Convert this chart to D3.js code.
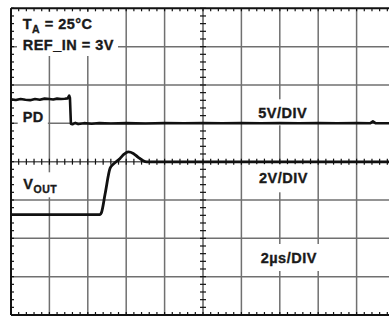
<!DOCTYPE html>
<html>
<head>
<meta charset="utf-8">
<script src="https://cdn.jsdelivr.net/npm/d3@7"></script>
<style>
  html, body { margin: 0; padding: 0; background: #fff; }
  svg { display: block; }
  text { font-family: "Liberation Sans", Arial, Helvetica, sans-serif; font-weight: bold; fill: #1a1a1a; stroke: #1a1a1a; stroke-width: 0.35px; }
</style>
</head>
<body>
<div id="chart"></div>
<script>
// ---- data ----
// horizontal: time in microseconds (2 µs/div, 10 divisions)
const timeDomain = [0, 20];
// vertical: screen divisions (8 divisions)
const divDomain = [0, 8];

// PD trace (5 V/div, 0 V at division 5)
const pdTime = [0, 0.25, 0.5, 0.75, 1.0, 1.25, 1.5, 1.75, 2.0, 2.2, 2.4, 2.6, 2.8, 2.95, 3.03, 3.07, 3.12, 3.2, 3.35, 3.5, 3.8, 4.2, 4.6, 5.2, 6, 7, 8, 9, 10, 11, 12, 13, 14, 15, 16, 17, 18, 18.7, 18.85, 19.0, 20];
const pdVolts = [3.12, 3.05, 3.18, 3.08, 3.02, 3.16, 3.08, 3.22, 3.18, 3.1, 3.22, 3.18, 3.2, 3.25, 3.62, 3.3, -0.05, -0.12, 0.05, -0.1, 0.02, -0.06, 0.03, -0.02, 0.02, -0.02, 0.02, 0.0, 0.03, 0.0, 0.02, 0.0, 0.02, 0.0, 0.02, 0.0, 0.02, 0.0, 0.25, 0.0, 0.02];
const pdZeroDiv = 5;
const pdVoltsPerDiv = 5;

// VOUT trace (2 V/div, 0 V reference at division 2.62)
const voutTime = [0, 4.64, 4.71, 4.9, 5.16, 5.33, 5.68, 5.89, 6.11, 6.37, 6.61, 6.89, 7.07, 20];
const voutVolts = [0, 0, 0.1, 1.07, 2.41, 2.63, 2.93, 3.15, 3.27, 3.19, 3.0, 2.8, 2.75, 2.75];
const voutZeroDiv = 2.62;
const voutVoltsPerDiv = 2;

// labels
const labelTexts = ["REF_IN = 3V", "PD", "5V/DIV", "2V/DIV", "2\u00B5s/DIV"];

// ---- drawing ----
const W = 389, H = 316;
const svg = d3.select("#chart").append("svg").attr("width", W).attr("height", H);
svg.append("rect").attr("width", W).attr("height", H).attr("fill", "#fff");

const x = d3.scaleLinear().domain(timeDomain).range([11, 395]);
const y = d3.scaleLinear().domain(divDomain).range([315, 8.3]);

const majorX = d3.range(0, 20.001, 2);
const majorY = d3.range(0, 8.001, 1);
const minorX = d3.range(0, 20.001, 0.4);
const minorY = d3.range(0, 8.001, 0.2);

const grid = svg.append("g");
grid.selectAll("line.vx").data(majorX.filter(d => d > 0 && d < 20 && d !== 10)).join("line")
  .attr("x1", d => x(d)).attr("x2", d => x(d)).attr("y1", y(8)).attr("y2", y(0))
  .attr("stroke", "#707070").attr("stroke-width", 1.5);
grid.selectAll("line.hy").data(majorY.filter(d => d > 0 && d < 8 && d !== 4)).join("line")
  .attr("x1", x(0)).attr("x2", x(20)).attr("y1", d => y(d)).attr("y2", d => y(d))
  .attr("stroke", "#707070").attr("stroke-width", 1.5);
// center axes
grid.append("line").attr("x1", x(10)).attr("x2", x(10)).attr("y1", y(8)).attr("y2", y(0))
  .attr("stroke", "#606060").attr("stroke-width", 1.5);
grid.append("line").attr("x1", x(0)).attr("x2", x(20)).attr("y1", y(4)).attr("y2", y(4))
  .attr("stroke", "#606060").attr("stroke-width", 1.5);

// ticks
const ticks = svg.append("g").attr("stroke", "#111").attr("stroke-width", 1.2);
const tl = 3;
minorX.forEach(t => {
  ticks.append("line").attr("x1", x(t)).attr("x2", x(t)).attr("y1", y(8)).attr("y2", y(8) + tl);
  ticks.append("line").attr("x1", x(t)).attr("x2", x(t)).attr("y1", y(0)).attr("y2", y(0) - tl);
  ticks.append("line").attr("x1", x(t)).attr("x2", x(t)).attr("y1", y(4) - tl).attr("y2", y(4) + tl);
});
minorY.forEach(v => {
  ticks.append("line").attr("x1", x(0)).attr("x2", x(0) + tl).attr("y1", y(v)).attr("y2", y(v));
  ticks.append("line").attr("x1", x(10) - tl).attr("x2", x(10) + tl).attr("y1", y(v)).attr("y2", y(v));
});

// border
svg.append("line").attr("x1", x(0)).attr("x2", W).attr("y1", y(8)).attr("y2", y(8)).attr("stroke", "#111").attr("stroke-width", 2);
svg.append("line").attr("x1", x(0)).attr("x2", W).attr("y1", y(0)).attr("y2", y(0)).attr("stroke", "#111").attr("stroke-width", 2);
svg.append("line").attr("x1", x(0)).attr("x2", x(0)).attr("y1", y(8)).attr("y2", y(0)).attr("stroke", "#111").attr("stroke-width", 2);

// labels with white boxes
const lab = svg.append("g");
function label(parts, lx, ly, pad) {
  const g = lab.append("g");
  const r = g.append("rect").attr("fill", "#fff");
  const t = g.append("text").attr("x", lx).attr("y", ly).style("font-size", "14.5px").style("letter-spacing", "0.5px");
  parts.forEach(p => {
    const s = t.append("tspan").text(p.t);
    if (p.sub) s.attr("dy", 4).style("font-size", "10.5px");
    if (p.up) s.attr("dy", -4);
  });
  const b = t.node().getBBox();
  r.attr("x", b.x - pad[0]).attr("y", b.y - pad[1]).attr("width", b.width + pad[0] + pad[2]).attr("height", b.height + pad[1] + pad[3]).attr("stroke", "none");
  return g;
}
// T_A / REF_IN block
{
  const g = lab.append("g");
  g.append("rect").attr("x", 17).attr("y", 12).attr("width", 101).attr("height", 44).attr("fill", "#fff");
  const t1 = g.append("text").attr("x", 22.7).attr("y", 29.3).style("font-size", "14.5px").style("letter-spacing", "0.5px");
  t1.append("tspan").text("T");
  t1.append("tspan").text("A").attr("dy", 4).style("font-size", "10.5px");
  t1.append("tspan").text(" = 25\u00B0C").attr("dy", -4);
  g.append("text").attr("x", 22.7).attr("y", 49.5).style("font-size", "14.5px").style("letter-spacing", "0.5px").text(labelTexts[0]);
}
label([{t: labelTexts[1]}], 22.7, 121.7, [5, 4, 4, 3]);
label([{t: labelTexts[2]}], 258.3, 118.3, [5, 6, 5, 4]);
label([{t: "V"}, {t: "OUT", sub: true}], 23.3, 189.3, [5, 4, 4, 2]);
label([{t: labelTexts[3]}], 259, 183.3, [5, 6, 5, 6]);
label([{t: labelTexts[4]}], 260.7, 263, [5, 6, 5, 5]);

// traces
const line = d3.line().x(d => x(d[0])).y(d => y(d[1]));
const pdPts = pdTime.map((t, i) => [t, pdZeroDiv + pdVolts[i] / pdVoltsPerDiv]);
const voutPts = voutTime.map((t, i) => [t, voutZeroDiv + voutVolts[i] / voutVoltsPerDiv]);
svg.append("path").attr("d", line(pdPts)).attr("fill", "none").attr("stroke", "#111").attr("stroke-width", 2.6).attr("stroke-linejoin", "round");
svg.append("path").attr("d", line.curve(d3.curveMonotoneX)(voutPts)).attr("fill", "none").attr("stroke", "#111").attr("stroke-width", 2.8).attr("stroke-linejoin", "round");
</script>
</body>
</html>
